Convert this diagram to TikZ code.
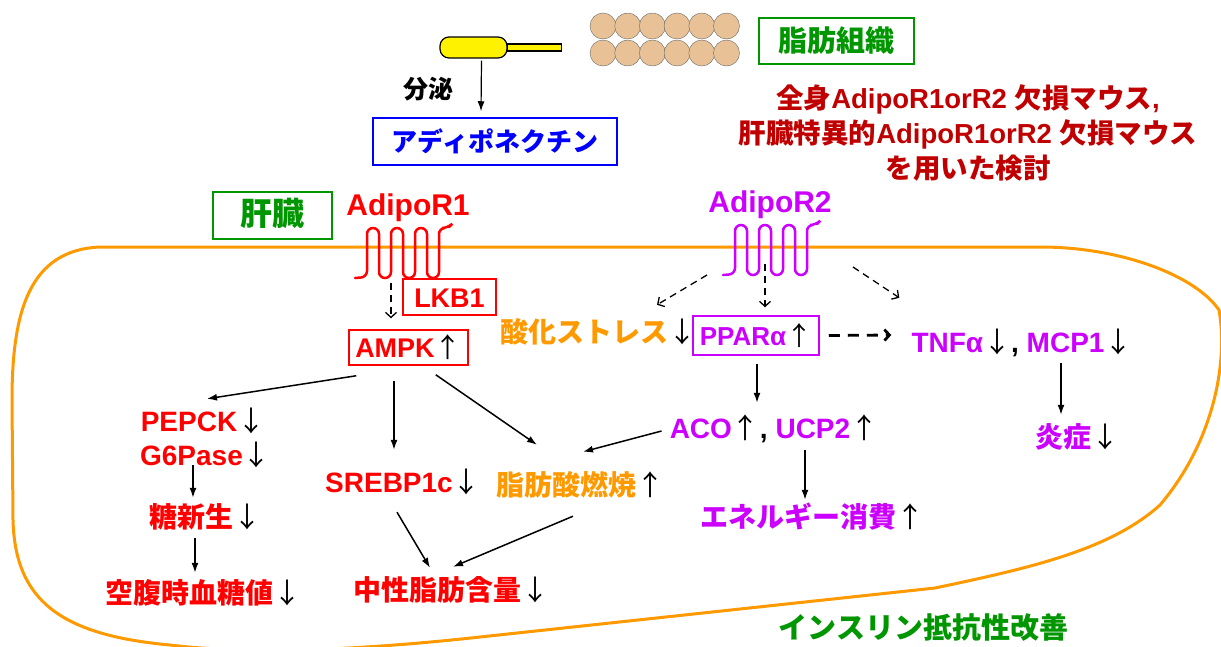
\documentclass[tikz,border=0pt]{standalone}
\usepackage{fontspec}
\setmainfont{Liberation Sans}
\newfontfamily\jp{Noto Sans CJK JP}
\usetikzlibrary{arrows.meta}
\tikzset{>={Latex[length=10pt, width=7pt]}}
\definecolor{darkred}{RGB}{192,0,0}
\definecolor{leafgreen}{RGB}{0,150,0}
\definecolor{rpurple}{RGB}{204,0,255}
\definecolor{memorange}{RGB}{255,153,0}
\definecolor{fattan}{RGB}{232,194,150}
\newcommand*{\uparr}{{\mdseries\jp\color{black}↑}}
\newcommand*{\dnarr}{{\mdseries\jp\color{black}↓}}
% seven-pass receptor: #1,#2 tail end, #3 colour
\newcommand*{\receptor}[3]{%
  \draw[#3, line width=2.5pt, line cap=round, rounded corners=6pt] (#1,#2) -- ++(12,-1)
    -- ++(0,-49) -- ++(12,0) -- ++(0,50) -- ++(12,0)
    -- ++(0,-50) -- ++(12,0) -- ++(0,50) -- ++(12,0)
    -- ++(0,-50) -- ++(12,0) -- ++(0,50) -- ++(12,0)
    -- ++(0,-50) -- ++(9,0) -- ++(1,-1);}
\tikzset{
    txt/.style={inner sep=0pt, text height=20pt, text depth=0pt,
        font=\fontsize{#1}{#1}\selectfont\bfseries},
    txt/.default=28,
    labelbox/.style={draw=#1, line width=1.5pt},
    sarrow/.style={->, line width=1.5pt},
    dasharrow/.style={line width=1.3pt, dash pattern=on 7pt off 5pt,
        -{Straight Barb[length=5pt, width=11pt]}},
}

\begin{document}
\begin{tikzpicture}[x=1pt, y=-1pt]
    \useasboundingbox (0,0) rectangle (1221,646);
    \clip (0,0) rectangle (1221,646);
    % hepatocyte membrane
    \draw[memorange, line width=3pt] (100,247) -- (1040,247)
        .. controls (1120,247) and (1195,275) .. (1219,310)
        .. controls (1228,360) and (1215,440) .. (1160,505)
        .. controls (1110,550) and (1030,568) .. (935,588) -- (480,637)
        .. controls (380,648) and (260,656) .. (170,645)
        .. controls (60,635) and (15,600) .. (13,520) -- (12,400)
        .. controls (12,310) and (30,250) .. (100,247) -- cycle;

    % adipocytes and the secreting cell
    \foreach \i in {0,...,5}{
        \draw[fill=fattan, draw=black!60] (603+24.7*\i,26) circle[radius=13pt];
        \draw[fill=fattan, draw=black!60] (603+24.7*\i,53) circle[radius=13pt];
    }
    \node[draw, fill=yellow, line width=1.2pt, rounded corners=9pt,
        minimum width=67pt, minimum height=21pt, inner sep=0pt] (gland) at (473.5,47.5) {};
    \draw[fill=yellow, line width=1.2pt] ([yshift=3.5]gland.east) rectangle ++(54,7);
    \node[txt=25] (secr) at (428,88) {{\jp 分泌}};
    \node[labelbox=blue, txt=26, text=blue, minimum width=244pt, minimum height=47pt] (adpn) at (495,141.5) {{\jp アディポネクチン}};
    \node[labelbox=leafgreen, txt=29, text=leafgreen, minimum width=155pt, minimum height=46pt] (fat) at (836.5,41) {{\jp 脂肪組織}};
    \node[font=\fontsize{27.5}{35}\selectfont\bfseries, text=darkred, align=center, inner sep=0pt] (study) at (968,133)
        {{\jp 全身}AdipoR1orR2 {\jp 欠損マウス},\\{\jp 肝臓特異的}AdipoR1orR2 {\jp 欠損マウス}\\{\jp を用いた検討}};
    \draw[sarrow, line width=1.2pt] ([xshift=8,yshift=-2]gland.south) -- ([xshift=-14,yshift=6]adpn.north);

    % receptors
    \node[labelbox=leafgreen, txt=32, text=leafgreen, minimum width=119pt, minimum height=47pt] (liver) at (272.5,215.5) {{\jp 肝臓}};
    \node[txt=30, text=red] (r1) at (408,205) {AdipoR1};
    \node[txt=30, text=rpurple] (r2) at (770,202) {AdipoR2};
    \receptor{355}{278}{red}
    \receptor{723}{275}{rpurple}
    \coordinate (r1foot) at (391,283);
    \coordinate (r2foot) at (765,264);

    % AdipoR1 branch
    \node[labelbox=red, txt=27, text=red, minimum width=93pt, minimum height=36pt] (lkb) at (449.5,297) {LKB1};
    \node[labelbox=red, txt=27, text=red, minimum width=119pt, minimum height=35pt] (ampk) at (408.5,347.5) {AMPK\uparr};
    \node[txt, text=red] (pepck) at (203,421) {PEPCK\dnarr};
    \node[txt, text=red] (g6p) at (205.5,455) {G6Pase\dnarr};
    \node[txt, text=red] (glu) at (205,517) {{\jp 糖新生}\dnarr};
    \node[txt, text=red] (fbg) at (203,593) {{\jp 空腹時血糖値}\dnarr};
    \node[txt, text=red] (srebp) at (403,482) {SREBP1c\dnarr};
    \node[txt, text=red] (tg) at (451,590) {{\jp 中性脂肪含量}\dnarr};
    \node[txt, text=memorange] (fao) at (580,485) {{\jp 脂肪酸燃焼}\uparr};

    % AdipoR2 branch
    \node[txt, text=memorange] (ox) at (598,332) {{\jp 酸化ストレス}\dnarr};
    \node[labelbox=rpurple, txt=26, text=rpurple, minimum width=126pt, minimum height=39pt] (ppar) at (756,335.5) {PPARα\uparr};
    \node[txt, text=rpurple] (aco) at (774,428) {ACO\uparr{\color{black},} UCP2\uparr};
    \node[txt, text=rpurple] (ee) at (812,517) {{\jp エネルギー消費}\uparr};
    \node[txt, text=rpurple] (tnf) at (1022,342) {TNFα\dnarr{\color{black},} MCP1\dnarr};
    \node[txt, text=rpurple] (infl) at (1077,437) {{\jp 炎症}\dnarr};
    \node[txt=29, text=leafgreen] (ir) at (923.5,628) {{\jp インスリン抵抗性改善}};

    % signalling
    \draw[dasharrow] (r1foot) -- ([xshift=-17.5,yshift=11]ampk.north);
    \draw[dasharrow] ([xshift=-58,yshift=-11]r2foot) -- ([xshift=59,yshift=17]ox.north);
    \draw[dasharrow] (r2foot) -- ([xshift=9,yshift=8]ppar.north);
    \draw[dasharrow] ([xshift=88,yshift=-3]r2foot) -- ([xshift=-12,yshift=34]tnf.north west);
    \draw[dasharrow, line width=2.8pt, dash pattern=on 11pt off 8pt] ([xshift=9]ppar.east) -- ([xshift=-20,yshift=7]tnf.west);
    \draw[sarrow] ([xshift=8,yshift=-10]ampk.south west) -- ([xshift=4,yshift=12]pepck.north);
    \draw[sarrow] ([xshift=-14.5,yshift=-15]ampk.south) -- ([xshift=-9,yshift=22]srebp.north);
    \draw[sarrow] ([xshift=-33,yshift=-9]ampk.south east) -- ([xshift=-43,yshift=30]fao.north);
    \draw[sarrow] ([xshift=-12.5]g6p.south) -- ([xshift=-12,yshift=9]glu.north);
    \draw[sarrow] ([xshift=-10,yshift=-11]glu.south) -- ([xshift=-8,yshift=10]fbg.north);
    \draw[sarrow] ([xshift=-6,yshift=-20]srebp.south) -- ([xshift=-21,yshift=12]tg.north);
    \draw[sarrow] ([xshift=-7,yshift=-21]fao.south) -- ([xshift=2,yshift=13]tg.north);
    \draw[sarrow] ([xshift=-8,yshift=-3]aco.west) -- ([xshift=3,yshift=23]fao.north);
    \draw[sarrow] ([xshift=1,yshift=-8.5]ppar.south) -- ([xshift=-17,yshift=15]aco.north);
    \draw[sarrow] ([xshift=31,yshift=-12]aco.south) -- ([xshift=-7,yshift=7]ee.north);
    \draw[sarrow] ([xshift=39,yshift=-11]tnf.south) -- ([xshift=-16,yshift=12]infl.north);
\end{tikzpicture}
\end{document}
